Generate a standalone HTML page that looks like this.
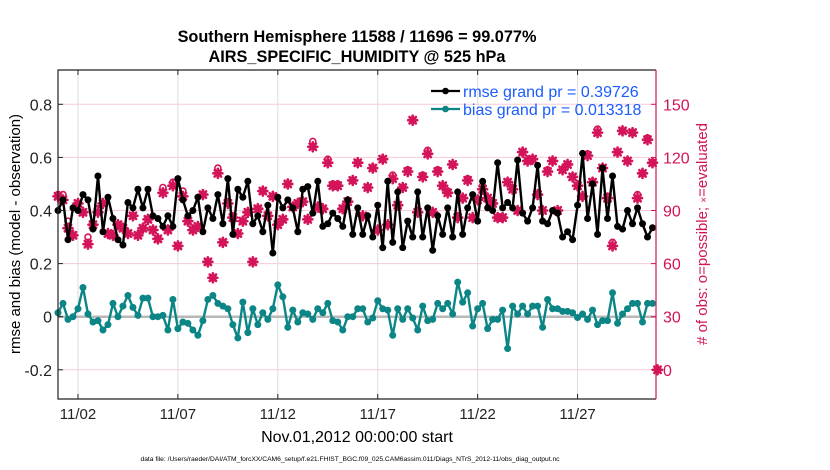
<!DOCTYPE html>
<html><head><meta charset="utf-8"><style>
body{margin:0;background:#fff;}
svg{display:block;font-family:"Liberation Sans",sans-serif;}
</style></head><body>
<svg id="chart" width="830" height="470" viewBox="0 0 830 470" xmlns="http://www.w3.org/2000/svg">
<rect width="830" height="470" fill="#fff"/>
<text x="357" y="42" text-anchor="middle" font-size="16.3" font-weight="bold">Southern Hemisphere 11588 / 11696 = 99.077%</text>
<text x="357" y="62" text-anchor="middle" font-size="16.3" font-weight="bold">AIRS_SPECIFIC_HUMIDITY @ 525 hPa</text>
<g id="grid"></g>
<g id="series"></g>
<g id="axes"></g>
<text x="357" y="442" text-anchor="middle" font-size="16">Nov.01,2012 00:00:00 start</text>
<text transform="translate(20,234) rotate(-90)" text-anchor="middle" font-size="15">rmse and bias (model - observation)</text>
<text transform="translate(707,234) rotate(-90)" text-anchor="middle" font-size="15" fill="#d4145a">#&#160;of obs: o=possible; <tspan font-size="10">×</tspan>=evaluated</text>
<text x="350" y="461" text-anchor="middle" font-size="6.7">data file: /Users/raeder/DAI/ATM_forcXX/CAM6_setup/f.e21.FHIST_BGC.f09_025.CAM6assim.011/Diags_NTrS_2012-11/obs_diag_output.nc</text>
<g id="legend"></g>
</svg>
<script>
const rmse = [0.40,0.44,0.29,0.41,0.40,0.46,0.44,0.33,0.53,0.32,0.45,0.37,0.29,0.27,0.43,0.41,0.48,0.41,0.48,0.38,0.37,0.34,0.38,0.34,0.52,0.44,0.38,0.40,0.45,0.32,
0.41,0.37,0.46,0.35,0.52,0.31,0.48,0.45,0.51,0.35,0.38,0.32,0.42,0.24,0.45,0.41,0.44,0.41,0.32,0.48,0.49,0.39,0.51,0.34,0.35,0.39,0.37,0.34,0.44,0.31,
0.41,0.31,0.38,0.30,0.42,0.26,0.51,0.28,0.47,0.26,0.36,0.30,0.47,0.30,0.41,0.25,0.38,0.31,0.41,0.30,0.47,0.31,0.41,0.46,0.36,0.51,0.41,0.40,0.58,0.41,
0.43,0.41,0.59,0.39,0.36,0.41,0.57,0.36,0.35,0.40,0.39,0.30,0.32,0.29,0.42,0.615,0.37,0.50,0.31,0.56,0.37,0.53,0.34,0.33,0.40,0.35,0.41,0.35,0.30,0.335];
const bias = [0.015,0.05,-0.01,0.0,0.03,0.11,0.01,-0.02,-0.015,-0.05,-0.03,0.05,0.0,0.04,0.08,0.035,0.005,0.07,0.07,0.0,0.0,0.005,-0.05,0.065,-0.045,-0.02,-0.025,-0.05,-0.07,-0.015,
0.065,0.08,0.05,0.04,0.03,-0.03,-0.08,0.055,-0.06,0.03,-0.03,0.015,-0.01,0.03,0.12,0.075,-0.04,0.025,-0.02,0.015,0.01,-0.01,0.03,0.015,0.05,-0.015,-0.02,-0.05,0.0,0.0,
0.03,0.03,-0.02,-0.005,0.06,0.03,0.025,-0.07,0.03,-0.01,0.03,-0.005,-0.05,0.04,-0.015,-0.01,0.05,0.03,0.05,0.01,0.13,0.055,0.09,-0.035,0.03,0.05,-0.045,-0.01,-0.01,0.025,
-0.12,0.04,0.01,0.04,0.01,0.04,0.04,-0.04,0.065,0.03,0.03,0.02,0.02,0.015,-0.003,0.01,-0.01,0.025,-0.03,-0.015,-0.015,0.09,-0.025,0.01,0.03,0.05,0.05,-0.02,0.05,0.05];
const nEval = [98,96,80,76,94,89,71,82,89,94,77,76,82,80,77,87,76,80,85,79,74,100,79,104,70,98,84,79,81,99,
61,52,111,72,94,86,77,84,89,61,91,101,87,98,82,85,105,92,94,95,85,126,92,91,117,104,104,91,95,107,
117,87,103,114,79,119,82,108,93,103,112,141,89,109,122,89,112,104,100,116,86,97,107,86,96,102,97,94,86,86,
106,102,90,123,118,119,99,90,112,118,90,113,116,109,104,98,121,106,134,114,97,70,123,135,118,134,97,111,130,117,0];
const nPoss = [99,99,84,76,94,89,75,82,91,94,77,76,82,80,77,87,76,80,85,79,74,103,79,106,70,101,84,79,81,99,
61,52,114,72,94,86,77,84,89,61,91,101,87,98,82,85,105,92,94,95,85,129,92,91,119,105,105,91,95,107,
117,87,103,114,79,119,82,110,93,103,113,141,89,110,124,89,113,104,101,116,86,97,108,86,96,104,97,94,86,86,
106,102,90,123,118,119,99,90,113,118,90,113,116,109,104,98,122,106,136,114,98,72,123,135,118,134,99,111,131,117,0];
const dayTicks = [1,6,11,16,21,26];
const dayTickLabels = ["11/02","11/07","11/12","11/17","11/22","11/27"];
const leftTicks = [-0.2,0,0.2,0.4,0.6,0.8];
const leftTickLabels = ["-0.2","0","0.2","0.4","0.6","0.8"];
const rightTicks = [0,30,60,90,120,150];
const rightTickLabels = ["0","30","60","90","120","150"];
const legendLabels = ["rmse grand pr = 0.39726","bias grand pr = 0.013318"];
const stepDays = 0.25;

const NS="http://www.w3.org/2000/svg";
const L=58,R=656,T=70,B=399;
const xS=d=>L+d*(597.5/29.9);
const yL=v=>316.7-v*265.5;
const yR=n=>yL(n/150-0.2);
function mk(tag,attrs,parent){const e=document.createElementNS(NS,tag);for(const k in attrs)e.setAttribute(k,attrs[k]);parent.appendChild(e);return e;}
const grid=document.getElementById('grid'),ser=document.getElementById('series'),ax=document.getElementById('axes'),leg=document.getElementById('legend');
const RED="#d4145a",TEAL="#0b8585";

leftTicks.forEach((v,i)=>{
 const g=mk('line',{x1:L,x2:R,y1:yL(v),y2:yL(v),stroke:"#f5cbd8","stroke-width":1},grid);
 
 
 const t=mk('text',{x:L-6,y:yL(v)+6,"text-anchor":"end","font-size":16,fill:"#222"},ax);t.textContent=leftTickLabels[i];
 
 
 mk('line',{x1:L,x2:L+5,y1:yL(v),y2:yL(v),stroke:"#222"},ax);
});
rightTicks.forEach((n,i)=>{
 const t=mk('text',{x:R+7,y:yR(n)+6,"font-size":16,fill:RED},ax);t.textContent=rightTickLabels[i];
 
 
 mk('line',{x1:R-5,x2:R,y1:yR(n),y2:yR(n),stroke:RED},ax);
});
dayTicks.forEach((d,i)=>{
 const g=mk('line',{x1:xS(d),x2:xS(d),y1:T,y2:B,stroke:"#dcdcdc","stroke-width":1},grid);
 
 
 mk('line',{x1:xS(d),x2:xS(d),y1:B,y2:B-5,stroke:"#222"},ax);
 mk('line',{x1:xS(d),x2:xS(d),y1:T,y2:T+5,stroke:"#222"},ax);
 const t=mk('text',{x:xS(d),y:419,"text-anchor":"middle","font-size":15,fill:"#222"},ax);t.textContent=dayTickLabels[i];
 
 
});
const zl=mk('line',{x1:L,x2:R,y1:yL(0),y2:yL(0),stroke:"#b8b8b8","stroke-width":2.5},grid);


const box=mk('path',{d:`M${R},${T}H${L}V${B}H${R}`,fill:"none",stroke:"#222","stroke-width":1.2},ax);


const ra=mk('line',{x1:R,x2:R,y1:T,y2:B,stroke:RED,"stroke-width":1.2},ax);



// obs markers
nEval.forEach((n,i)=>{
 const x=xS(i*stepDays);
 const c=mk('circle',{cx:x,cy:yR(nPoss[i]),r:3,fill:"none",stroke:RED,"stroke-width":1.6},ser);
 
 
 const y=yR(n);
 const g=mk('g',{stroke:RED,"stroke-width":2.6,"stroke-linecap":"round"},ser);
 
 
 mk('circle',{cx:x,cy:y,r:2.6,fill:RED,stroke:"none"},g);
 mk('line',{x1:x-4.5,x2:x+4.5,y1:y,y2:y},g);mk('line',{x1:x,x2:x,y1:y-4.5,y2:y+4.5},g);
 mk('line',{x1:x-3.2,x2:x+3.2,y1:y-3.2,y2:y+3.2},g);mk('line',{x1:x-3.2,x2:x+3.2,y1:y+3.2,y2:y-3.2},g);
});
function drawLine(arr,col,name){
 const pts=arr.map((v,i)=>xS(i*stepDays).toFixed(1)+","+yL(v).toFixed(1)).join(" ");
 const p=mk('polyline',{points:pts,fill:"none",stroke:col,"stroke-width":2.4,"stroke-linejoin":"round"},ser);
 
 
 arr.forEach((v,i)=>{const c=mk('circle',{cx:xS(i*stepDays),cy:yL(v),r:3.5,fill:col},ser);
  
  });
}
drawLine(rmse,"#000","rmse");
drawLine(bias,TEAL,"bias");

[["#000",91],[TEAL,109]].forEach((s,i)=>{
 const g=mk('g',{},leg);
 
 
 mk('line',{x1:431,x2:460,y1:s[1],y2:s[1],stroke:s[0],"stroke-width":2.2},g);
 mk('circle',{cx:445.5,cy:s[1],r:3.3,fill:s[0]},g);
 const t=mk('text',{x:463,y:s[1]+6,"font-size":16,fill:"#1a5cff"},g);t.textContent=legendLabels[i];
});
</script>
</body></html>
